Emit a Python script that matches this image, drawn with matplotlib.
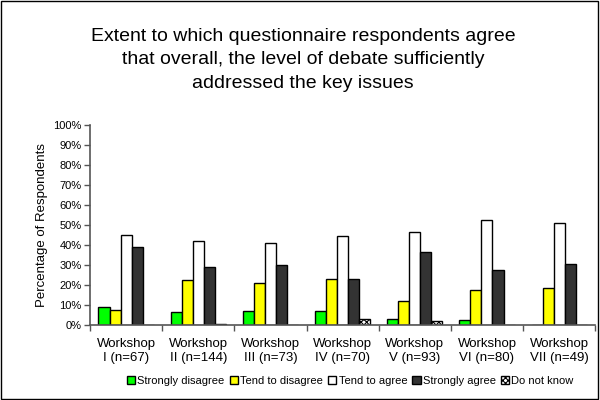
import numpy as np
import matplotlib
matplotlib.use("Agg")
import matplotlib.pyplot as plt
from matplotlib.patches import Rectangle

plt.rcParams['font.family'] = ['Liberation Sans', 'DejaVu Sans']
plt.rcParams['hatch.linewidth'] = 0.8

# data (percent)
workshops = ["Workshop\nI (n=67)", "Workshop\nII (n=144)", "Workshop\nIII (n=73)",
             "Workshop\nIV (n=70)", "Workshop\nV (n=93)", "Workshop\nVI (n=80)",
             "Workshop\nVII (n=49)"]
strongly_disagree = [9.1, 6.6, 7.1, 7.3, 3.3, 2.6, 0.0]
tend_disagree = [7.6, 22.4, 20.9, 23.0, 12.1, 17.5, 18.5]
tend_agree = [44.9, 41.9, 41.2, 44.4, 46.4, 52.8, 51.0]
strongly_agree = [39.1, 29.3, 30.3, 23.0, 36.8, 27.6, 30.8]
do_not_know = [0.0, 0.7, 0.0, 3.1, 2.3, 0.0, 0.0]

title_lines = ["Extent to which questionnaire respondents agree",
               "that overall, the level of debate sufficiently",
               "addressed the key issues"]

series = [
    ("Strongly disagree", strongly_disagree, "#00ff00", None),
    ("Tend to disagree", tend_disagree, "#ffff00", None),
    ("Tend to agree", tend_agree, "white", None),
    ("Strongly agree", strongly_agree, "#333333", None),
    ("Do not know", do_not_know, "white", "xxxxxx"),
]

fig = plt.figure(figsize=(6, 4), dpi=100)
ax = fig.add_axes([0.15, 0.187, 0.842, 0.5])

x = np.arange(len(workshops))
w = 0.153
for i, (name, vals, col, hatch) in enumerate(series):
    ax.bar(x + (i - 2) * w, vals, width=w, color=col, edgecolor="black",
           linewidth=1.0, hatch=hatch, label=name)

ax.set_xlim(-0.5, len(workshops) - 0.5)
ax.set_ylim(0, 100)
ax.set_yticks(np.arange(0, 101, 10))
ax.set_yticklabels([f"{v}%" for v in range(0, 101, 10)], fontsize=8)
ax.set_xticks(x)
ax.set_xticklabels(workshops, fontsize=9.5, linespacing=1.25)
ax.tick_params(axis='x', length=0, pad=9)
ax.set_xticks(np.arange(-0.5, len(workshops)), minor=True)
ax.tick_params(axis='x', which='minor', length=4, width=1, color='#555555')
ax.tick_params(axis='y', length=4, width=1, color='#555555', pad=2)
ax.spines['top'].set_visible(False)
ax.spines['right'].set_visible(False)
ax.spines['left'].set_color('#555555')
ax.spines['bottom'].set_color('#555555')
ax.spines['left'].set_linewidth(1.2)
ax.spines['bottom'].set_linewidth(1.2)
ax.set_ylabel("Percentage of Respondents", fontsize=9.5, labelpad=4)

# title, one line at a time
for k, line in enumerate(title_lines):
    fig.text(0.505, 1 - (41 + 23.5 * k) / 400, line, ha='center', va='baseline',
             fontsize=14)

ax.legend(loc='upper center', bbox_to_anchor=(0.515, -0.23), ncol=5,
          fontsize=8, frameon=False, handlelength=0.75, handleheight=0.75,
          handletextpad=0.2, columnspacing=0.45, borderaxespad=0)

fig.patches.append(Rectangle((0.002, 0.003), 0.995, 0.994, transform=fig.transFigure,
                             fill=False, edgecolor='black', linewidth=1))

fig.savefig("out.png", dpi=100)
